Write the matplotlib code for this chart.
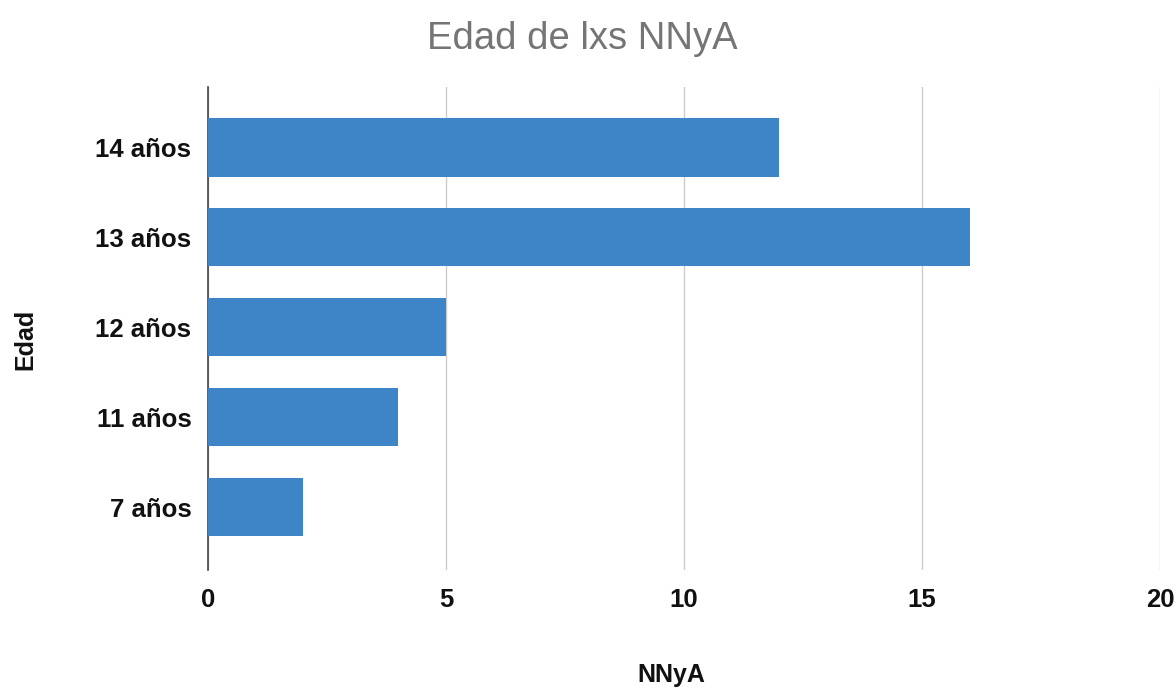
import matplotlib as mpl
mpl.use('Agg')
import matplotlib.pyplot as plt

# data
edades = ['7 años', '11 años', '12 años', '13 años', '14 años']
nnya = [2, 4, 5, 16, 12]
xticks = [0, 5, 10, 15, 20]

plt.rcParams['font.family'] = ['Liberation Sans', 'DejaVu Sans']

fig = plt.figure(figsize=(11.76, 6.89), dpi=100)
ax = fig.add_axes([0.1769, 0.1727, 0.8095, 0.701])

ax.barh(edades, nnya, height=0.65, color='#3d85c6', zorder=3)

ax.set_xlim(0, 20)
ax.set_ylim(-0.7, 4.67)
ax.set_xticks(xticks)
ax.grid(axis='x', color='#cccccc', linewidth=1, zorder=0)
for s in ['top', 'right', 'bottom']:
    ax.spines[s].set_visible(False)
ax.spines['left'].set_color('#444444')
ax.spines['left'].set_linewidth(1.2)
ax.tick_params(axis='both', length=0, labelsize=18.5)
ax.tick_params(axis='x', pad=13)
ax.tick_params(axis='y', pad=12)
for lab in ax.get_xticklabels() + ax.get_yticklabels():
    lab.set_fontweight('bold')
    lab.set_color('#111111')

ax.set_xlabel('NNyA', fontsize=18, fontweight='bold', color='#111111', va='center')
ax.xaxis.set_label_coords(0.487, -0.217)
ax.set_ylabel('Edad', fontsize=18, fontweight='bold', color='#111111', va='center')
ax.yaxis.set_label_coords(-0.192, 0.478)
fig.text(0.495, 0.943, 'Edad de lxs NNyA', ha='center', va='center',
         fontsize=27.5, color='#757575')

fig.savefig('out.png', dpi=100)
